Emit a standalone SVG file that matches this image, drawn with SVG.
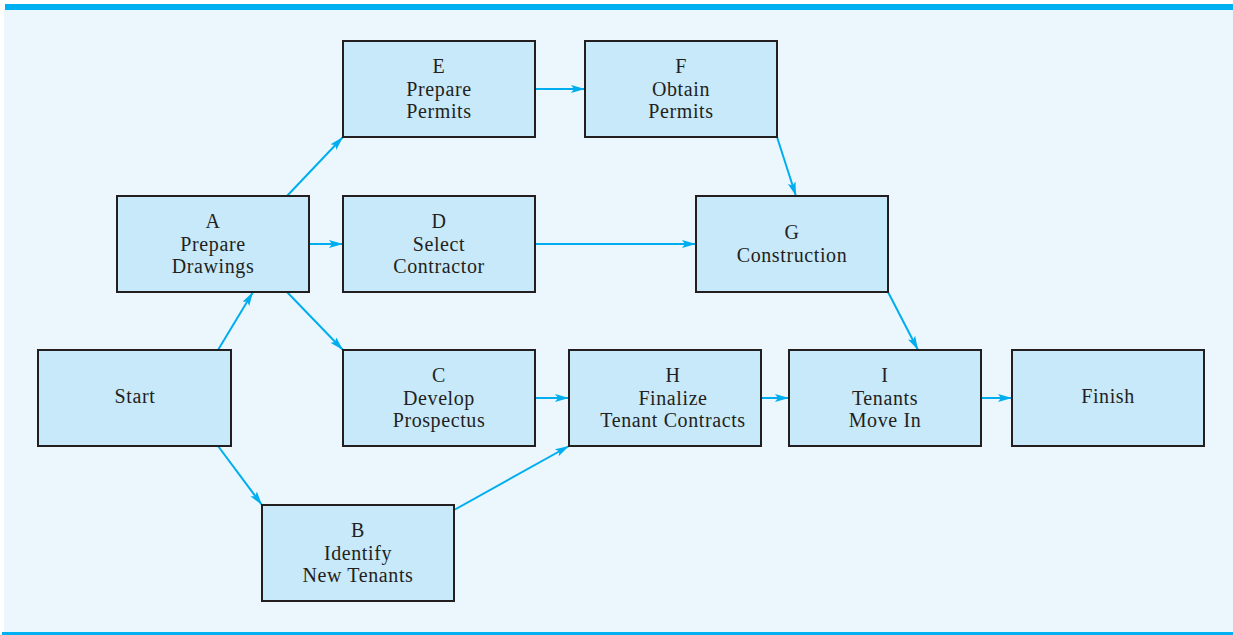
<svg xmlns="http://www.w3.org/2000/svg" width="1233" height="635" viewBox="0 0 1233 635">
  <style>
    .node rect { fill: #c8e9fa; stroke: #231f20; stroke-width: 2; }
    .node text { font-family: "Liberation Serif", "Times New Roman", serif; font-size: 20px; letter-spacing: 0.6px; fill: #231f20; text-anchor: middle; }
    .edges line { stroke: #00aeef; stroke-width: 2; marker-end: url(#arrow); }
  </style>
  <defs>
    <marker id="arrow" markerUnits="userSpaceOnUse" markerWidth="15" markerHeight="10" refX="14" refY="4" orient="auto">
      <path d="M0,0 L14,4 L0,8 L3,4 z" fill="#00aeef"/>
    </marker>
  </defs>

  <!-- panel and rules -->
  <rect x="0" y="0" width="1233" height="635" fill="#ffffff"/>
  <rect x="4" y="9" width="1229" height="624" fill="#ebf7fd"/>
  <rect x="5" y="4" width="1228" height="6" fill="#00b0f0"/>
  <rect x="2" y="632" width="1231" height="3" fill="#00b0f0"/>

  <g class="edges">
    <line x1="218" y1="350" x2="253" y2="292"/>
    <line x1="218" y1="446" x2="262" y2="505"/>
    <line x1="287" y1="196" x2="343" y2="137"/>
    <line x1="309" y1="244" x2="343" y2="244"/>
    <line x1="287" y1="292" x2="343" y2="350"/>
    <line x1="535" y1="89" x2="585" y2="89"/>
    <line x1="777" y1="137" x2="796" y2="196"/>
    <line x1="535" y1="244" x2="696" y2="244"/>
    <line x1="888" y1="292" x2="918" y2="350"/>
    <line x1="535" y1="398" x2="569" y2="398"/>
    <line x1="454" y1="510" x2="569" y2="446"/>
    <line x1="761" y1="398" x2="789" y2="398"/>
    <line x1="981" y1="398" x2="1012" y2="398"/>
  </g>

  <g id="node-start" class="node">
    <rect x="38" y="350" width="193" height="96"/>
    <text x="135" y="403">Start</text>
  </g>
  <g id="node-a" class="node">
    <rect x="117" y="196" width="192" height="96"/>
    <text x="213" y="228">A</text>
    <text x="213" y="250.5">Prepare</text>
    <text x="213" y="273">Drawings</text>
  </g>
  <g id="node-b" class="node">
    <rect x="262" y="505" width="192" height="96"/>
    <text x="358" y="537">B</text>
    <text x="358" y="559.5">Identify</text>
    <text x="358" y="582">New Tenants</text>
  </g>
  <g id="node-c" class="node">
    <rect x="343" y="350" width="192" height="96"/>
    <text x="439" y="382">C</text>
    <text x="439" y="404.5">Develop</text>
    <text x="439" y="427">Prospectus</text>
  </g>
  <g id="node-d" class="node">
    <rect x="343" y="196" width="192" height="96"/>
    <text x="439" y="228">D</text>
    <text x="439" y="250.5">Select</text>
    <text x="439" y="273">Contractor</text>
  </g>
  <g id="node-e" class="node">
    <rect x="343" y="41" width="192" height="96"/>
    <text x="439" y="73">E</text>
    <text x="439" y="95.5">Prepare</text>
    <text x="439" y="118">Permits</text>
  </g>
  <g id="node-f" class="node">
    <rect x="585" y="41" width="192" height="96"/>
    <text x="681" y="73">F</text>
    <text x="681" y="95.5">Obtain</text>
    <text x="681" y="118">Permits</text>
  </g>
  <g id="node-g" class="node">
    <rect x="696" y="196" width="192" height="96"/>
    <text x="792" y="239">G</text>
    <text x="792" y="262">Construction</text>
  </g>
  <g id="node-h" class="node">
    <rect x="569" y="350" width="192" height="96"/>
    <text x="673" y="382">H</text>
    <text x="673" y="404.5">Finalize</text>
    <text x="673" y="427">Tenant Contracts</text>
  </g>
  <g id="node-i" class="node">
    <rect x="789" y="350" width="192" height="96"/>
    <text x="885" y="382">I</text>
    <text x="885" y="404.5">Tenants</text>
    <text x="885" y="427">Move In</text>
  </g>
  <g id="node-finish" class="node">
    <rect x="1012" y="350" width="192" height="96"/>
    <text x="1108" y="403">Finish</text>
  </g>
</svg>
